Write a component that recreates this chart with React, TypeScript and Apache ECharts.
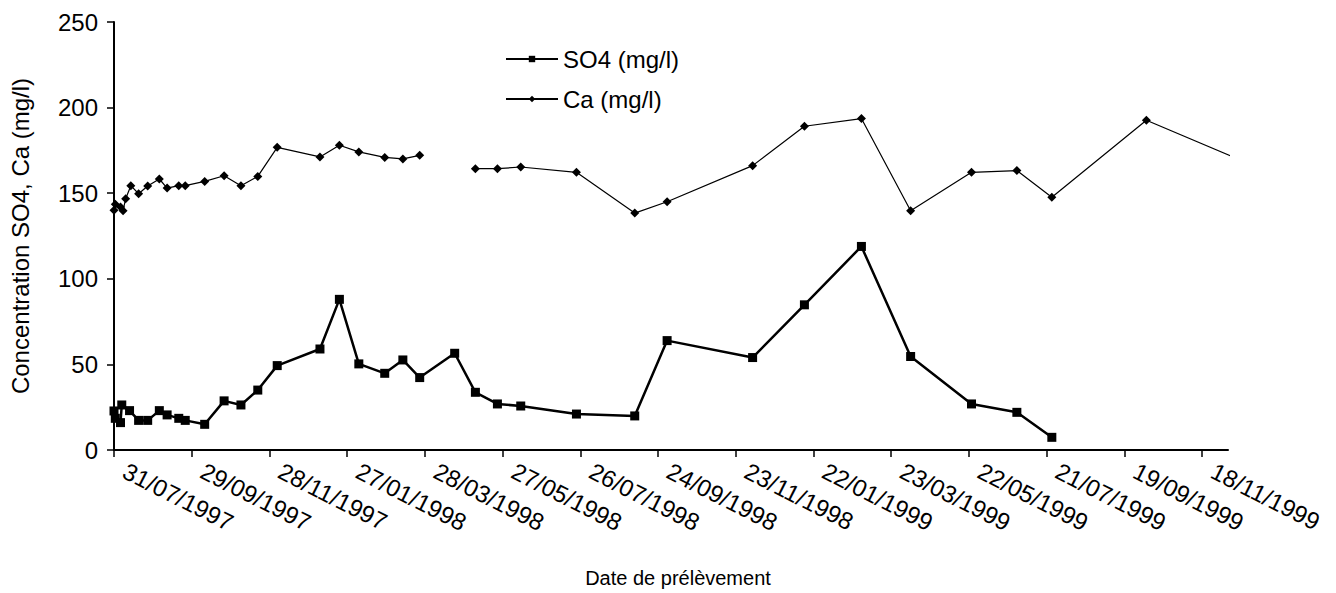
import { useEffect, useRef } from "react";
import * as echarts from "echarts";

const xTickLabels = [
  "31/07/1997", "29/09/1997", "28/11/1997", "27/01/1998", "28/03/1998",
  "27/05/1998", "26/07/1998", "24/09/1998", "23/11/1998", "22/01/1999",
  "23/03/1999", "22/05/1999", "21/07/1999", "19/09/1999", "18/11/1999",
];
const axisStart = "31/07/1997";
const axisEnd = "08/12/1999";

const so4Dates = [
  "31/07/1997", "01/08/1997", "05/08/1997", "06/08/1997", "12/08/1997",
  "19/08/1997", "26/08/1997", "04/09/1997", "10/09/1997", "19/09/1997",
  "24/09/1997", "09/10/1997", "24/10/1997", "06/11/1997", "19/11/1997",
  "04/12/1997", "06/01/1998", "21/01/1998", "05/02/1998", "25/02/1998",
  "11/03/1998", "24/03/1998", "20/04/1998", "06/05/1998", "23/05/1998",
  "10/06/1998", "23/07/1998", "06/09/1998", "01/10/1998", "06/12/1998",
  "15/01/1999", "28/02/1999", "07/04/1999", "24/05/1999", "28/06/1999",
  "25/07/1999",
];
const so4Values = [
  22.8, 18.5, 16, 26.3, 23,
  17.3, 17.3, 23, 20.5, 18.5,
  17.3, 15, 28.7, 26.3, 35,
  49.3, 59, 88, 50.3, 44.8,
  52.6, 42.3, 56.5, 33.7, 26.9,
  25.7, 21, 19.9, 63.9, 54,
  84.8, 118.9, 54.6, 26.9, 22,
  7.4,
];

const caDates = [
  "31/07/1997", "01/08/1997", "05/08/1997", "07/08/1997", "09/08/1997",
  "13/08/1997", "19/08/1997", "26/08/1997", "04/09/1997", "10/09/1997",
  "19/09/1997", "24/09/1997", "09/10/1997", "24/10/1997", "06/11/1997",
  "19/11/1997", "04/12/1997", "06/01/1998", "21/01/1998", "05/02/1998",
  "25/02/1998", "11/03/1998", "24/03/1998", "20/04/1998", "06/05/1998",
  "23/05/1998", "10/06/1998", "23/07/1998", "06/09/1998", "01/10/1998",
  "06/12/1998", "15/01/1999", "28/02/1999", "07/04/1999", "24/05/1999",
  "28/06/1999", "25/07/1999", "06/10/1999", "28/12/1999",
];
const caValues: (number | null)[] = [
  140, 143.5, 142, 139.8, 146.8,
  154.4, 149.7, 154.2, 158.3, 153,
  154.4, 154.4, 156.9, 160.2, 154.4,
  159.8, 176.8, 171.2, 178, 174.1,
  170.9, 170, 172.1, null, 164.3,
  164.3, 165.3, 162.2, 138.4, 145,
  166.1, 189.1, 193.6, 139.8, 162.2,
  163.2, 147.6, 192.6, 166,
];

const yTicks = [0, 50, 100, 150, 200, 250];

const DAY = 86400000;
const parseDMY = (s: string) => {
  const [d, m, y] = s.split("/").map(Number);
  return Date.UTC(y, m - 1, d);
};
const origin = parseDMY(axisStart);
const dayOf = (s: string) => Math.round((parseDMY(s) - origin) / DAY);
const labelOf = (day: number) => {
  const t = new Date(origin + Math.round(day) * DAY);
  const dd = String(t.getUTCDate()).padStart(2, "0");
  const mm = String(t.getUTCMonth() + 1).padStart(2, "0");
  return `${dd}/${mm}/${t.getUTCFullYear()}`;
};

const FONT = "'Liberation Sans', Arial, sans-serif";

export default function App() {
  const ref = useRef<HTMLDivElement>(null);
  useEffect(() => {
    document.body.style.margin = "0";
    if (!ref.current) return;
    const chart = echarts.init(ref.current, undefined, { renderer: "svg" });
    const tickDays = xTickLabels.map(dayOf);
    chart.setOption({
      animation: false,
      backgroundColor: "#ffffff",
      textStyle: { fontFamily: FONT, color: "#000" },
      grid: {
        left: 114,
        right: 108,
        top: 22,
        bottom: 143,
        containLabel: false,
        outerBoundsMode: "none",
      },
      legend: {
        orient: "vertical",
        left: 500,
        top: 42,
        itemGap: 16,
        itemWidth: 52,
        itemHeight: 8,
        textStyle: { fontFamily: FONT, fontSize: 24, color: "#000" },
        data: ["SO4 (mg/l)", "Ca (mg/l)"],
      },
      xAxis: {
        type: "value",
        min: 0,
        max: dayOf(axisEnd),
        name: "Date de prélèvement",
        nameLocation: "middle",
        nameGap: 118,
        nameTextStyle: { fontFamily: FONT, fontSize: 20, color: "#000", padding: [0, 0, 0, 14] },
        axisLine: { show: true, lineStyle: { color: "#000", width: 2 } },
        axisTick: {
          show: true,
          length: 7,
          lineStyle: { color: "#000", width: 1.5 },
          customValues: tickDays,
        },
        axisLabel: {
          customValues: tickDays,
          rotate: -27,
          margin: 14,
          padding: [0, 0, 0, 12],
          fontFamily: FONT,
          fontSize: 24,
          color: "#000",
          formatter: (v: number) => labelOf(v),
        },
        splitLine: { show: false },
      },
      yAxis: {
        type: "value",
        min: 0,
        max: 250,
        interval: 50,
        name: "Concentration SO4, Ca (mg/l)",
        nameLocation: "middle",
        nameGap: 82,
        nameRotate: 90,
        nameTextStyle: { fontFamily: FONT, fontSize: 24, color: "#000" },
        axisLine: { show: true, lineStyle: { color: "#000", width: 2 } },
        axisTick: { show: true, inside: false, length: 7, lineStyle: { color: "#000", width: 1.5 } },
        axisLabel: {
          margin: 16,
          fontFamily: FONT,
          fontSize: 24,
          color: "#000",
          customValues: yTicks,
        },
        splitLine: { show: false },
      },
      series: [
        {
          name: "SO4 (mg/l)",
          type: "line",
          data: so4Dates.map((d, i) => [dayOf(d), so4Values[i]]),
          symbol: "rect",
          symbolSize: 9,
          showAllSymbol: true,
          lineStyle: { color: "#000", width: 2.5 },
          itemStyle: { color: "#000" },
          clip: true,
        },
        {
          name: "Ca (mg/l)",
          type: "line",
          data: caDates.map((d, i) => [dayOf(d), caValues[i]]),
          symbol: "diamond",
          symbolSize: 9,
          showAllSymbol: true,
          connectNulls: false,
          lineStyle: { color: "#000", width: 1.2 },
          itemStyle: { color: "#000" },
          clip: true,
        },
      ],
    });
    return () => chart.dispose();
  }, []);
  return <div ref={ref} style={{ width: 1336, height: 593 }} />;
}
